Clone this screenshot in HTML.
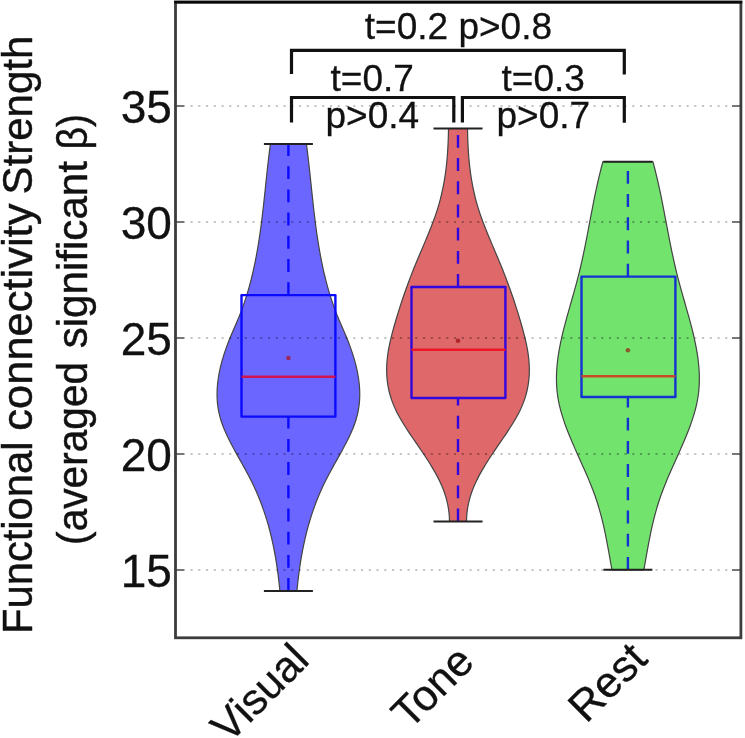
<!DOCTYPE html>
<html><head><meta charset="utf-8"><title>Functional connectivity Strength</title>
<style>html,body{margin:0;padding:0;background:#fff}body{width:745px;height:738px;overflow:hidden}svg{display:block}text{font-family:"Liberation Sans",sans-serif;fill:#111;stroke:#111;stroke-width:0.3px}</style></head><body>
<svg width="745" height="738" viewBox="0 0 745 738">
<rect width="745" height="738" fill="#fff"/>
<line x1="190.5" x2="732.9" y1="106.0" y2="106.0" stroke="#c4c4c4" stroke-width="2" stroke-dasharray="2.1 5.65"/>
<line x1="175.5" x2="184.5" y1="106.0" y2="106.0" stroke="#777" stroke-width="2"/>
<line x1="731.9" x2="740.9" y1="106.0" y2="106.0" stroke="#777" stroke-width="2"/>
<line x1="190.5" x2="732.9" y1="222.0" y2="222.0" stroke="#c4c4c4" stroke-width="2" stroke-dasharray="2.1 5.65"/>
<line x1="175.5" x2="184.5" y1="222.0" y2="222.0" stroke="#777" stroke-width="2"/>
<line x1="731.9" x2="740.9" y1="222.0" y2="222.0" stroke="#777" stroke-width="2"/>
<line x1="190.5" x2="732.9" y1="338.0" y2="338.0" stroke="#c4c4c4" stroke-width="2" stroke-dasharray="2.1 5.65"/>
<line x1="175.5" x2="184.5" y1="338.0" y2="338.0" stroke="#777" stroke-width="2"/>
<line x1="731.9" x2="740.9" y1="338.0" y2="338.0" stroke="#777" stroke-width="2"/>
<line x1="190.5" x2="732.9" y1="454.0" y2="454.0" stroke="#c4c4c4" stroke-width="2" stroke-dasharray="2.1 5.65"/>
<line x1="175.5" x2="184.5" y1="454.0" y2="454.0" stroke="#777" stroke-width="2"/>
<line x1="731.9" x2="740.9" y1="454.0" y2="454.0" stroke="#777" stroke-width="2"/>
<line x1="190.5" x2="732.9" y1="570.0" y2="570.0" stroke="#c4c4c4" stroke-width="2" stroke-dasharray="2.1 5.65"/>
<line x1="175.5" x2="184.5" y1="570.0" y2="570.0" stroke="#777" stroke-width="2"/>
<line x1="731.9" x2="740.9" y1="570.0" y2="570.0" stroke="#777" stroke-width="2"/>
<g fill="none" stroke="#0a0aff" stroke-width="2.4" stroke-linejoin="round">
<path d="M288.4,295.1 V143.9" stroke-dasharray="12.9 10.3"/>
<path d="M288.4,591.0 V416.6" stroke-dasharray="12.9 10.3"/>
</g>
<g fill="none" stroke="#3206dc" stroke-width="2.4" stroke-linejoin="round">
<path d="M458.0,287.0 V128.5" stroke-dasharray="12.9 10.3"/>
<path d="M458.0,521.5 V398.0" stroke-dasharray="12.9 10.3"/>
</g>
<g fill="none" stroke="#1432d2" stroke-width="2.4" stroke-linejoin="round">
<path d="M627.9,276.6 V161.7" stroke-dasharray="12.9 10.3"/>
<path d="M627.9,569.8 V397.0" stroke-dasharray="12.9 10.3"/>
</g>
<path d="M306.40,143.90 C306.51,144.74 306.84,147.25 307.06,148.92 C307.27,150.60 307.48,152.27 307.69,153.95 C307.89,155.62 308.09,157.30 308.29,158.97 C308.48,160.65 308.68,162.32 308.86,163.99 C309.05,165.67 309.24,167.34 309.42,169.02 C309.61,170.69 309.79,172.37 309.97,174.04 C310.15,175.72 310.32,177.39 310.50,179.07 C310.68,180.74 310.85,182.41 311.03,184.09 C311.20,185.76 311.38,187.44 311.55,189.11 C311.73,190.79 311.90,192.46 312.08,194.14 C312.26,195.81 312.44,197.49 312.62,199.16 C312.80,200.83 312.98,202.51 313.16,204.18 C313.35,205.86 313.54,207.53 313.73,209.21 C313.92,210.88 314.11,212.56 314.31,214.23 C314.51,215.90 314.71,217.58 314.92,219.25 C315.12,220.93 315.33,222.60 315.55,224.28 C315.77,225.95 315.99,227.63 316.22,229.30 C316.45,230.98 316.68,232.65 316.92,234.32 C317.17,236.00 317.41,237.67 317.67,239.35 C317.93,241.02 318.19,242.70 318.46,244.37 C318.74,246.05 319.02,247.72 319.31,249.40 C319.60,251.07 319.90,252.74 320.20,254.42 C320.51,256.09 320.83,257.77 321.16,259.44 C321.49,261.12 321.83,262.79 322.18,264.47 C322.53,266.14 322.89,267.82 323.27,269.49 C323.64,271.16 324.03,272.84 324.43,274.51 C324.82,276.19 325.23,277.86 325.66,279.54 C326.09,281.21 326.52,282.89 326.98,284.56 C327.43,286.24 327.90,287.91 328.38,289.58 C328.86,291.26 329.36,292.93 329.88,294.61 C330.39,296.28 330.92,297.96 331.48,299.63 C332.03,301.31 332.59,302.98 333.18,304.66 C333.76,306.33 334.37,308.00 334.99,309.68 C335.62,311.35 336.26,313.03 336.93,314.70 C337.59,316.38 338.28,318.05 338.98,319.73 C339.68,321.40 340.40,323.07 341.13,324.75 C341.85,326.42 342.58,328.10 343.30,329.77 C344.02,331.45 344.75,333.12 345.45,334.80 C346.16,336.47 346.85,338.15 347.52,339.82 C348.19,341.49 348.85,343.17 349.47,344.84 C350.10,346.52 350.71,348.19 351.29,349.87 C351.87,351.54 352.43,353.22 352.96,354.89 C353.49,356.57 353.99,358.24 354.47,359.91 C354.95,361.59 355.40,363.26 355.82,364.94 C356.24,366.61 356.63,368.29 356.99,369.96 C357.35,371.64 357.67,373.31 357.97,374.99 C358.26,376.66 358.53,378.33 358.75,380.01 C358.98,381.68 359.17,383.36 359.32,385.03 C359.47,386.71 359.59,388.38 359.66,390.06 C359.73,391.73 359.76,393.41 359.75,395.08 C359.73,396.75 359.68,398.43 359.57,400.10 C359.47,401.78 359.32,403.45 359.11,405.13 C358.91,406.80 358.66,408.48 358.35,410.15 C358.04,411.83 357.68,413.50 357.27,415.17 C356.85,416.85 356.38,418.52 355.86,420.20 C355.33,421.87 354.75,423.55 354.13,425.22 C353.51,426.90 352.84,428.57 352.13,430.24 C351.42,431.92 350.67,433.59 349.90,435.27 C349.12,436.94 348.30,438.62 347.47,440.29 C346.63,441.97 345.76,443.64 344.88,445.32 C344.00,446.99 343.09,448.66 342.18,450.34 C341.26,452.01 340.33,453.69 339.40,455.36 C338.46,457.04 337.52,458.71 336.58,460.39 C335.64,462.06 334.69,463.74 333.76,465.41 C332.83,467.08 331.90,468.76 330.98,470.43 C330.07,472.11 329.17,473.78 328.29,475.46 C327.41,477.13 326.55,478.81 325.71,480.48 C324.87,482.16 324.06,483.83 323.27,485.50 C322.48,487.18 321.72,488.85 320.97,490.53 C320.23,492.20 319.51,493.88 318.81,495.55 C318.11,497.23 317.43,498.90 316.77,500.58 C316.11,502.25 315.48,503.92 314.86,505.60 C314.24,507.27 313.65,508.95 313.07,510.62 C312.49,512.30 311.94,513.97 311.40,515.65 C310.86,517.32 310.33,519.00 309.83,520.67 C309.33,522.34 308.84,524.02 308.37,525.69 C307.90,527.37 307.45,529.04 307.01,530.72 C306.58,532.39 306.16,534.07 305.75,535.74 C305.35,537.41 304.96,539.09 304.58,540.76 C304.21,542.44 303.85,544.11 303.50,545.79 C303.15,547.46 302.82,549.14 302.50,550.81 C302.18,552.49 301.87,554.16 301.58,555.83 C301.28,557.51 301.00,559.18 300.73,560.86 C300.46,562.53 300.20,564.21 299.95,565.88 C299.70,567.56 299.46,569.23 299.23,570.91 C299.00,572.58 298.78,574.25 298.57,575.93 C298.36,577.60 298.16,579.28 297.97,580.95 C297.77,582.63 297.59,584.30 297.41,585.98 C297.23,587.65 296.99,590.16 296.90,591.00 L279.90,591.00 C279.81,590.16 279.57,587.65 279.39,585.98 C279.21,584.30 279.03,582.63 278.83,580.95 C278.64,579.28 278.44,577.60 278.23,575.93 C278.02,574.25 277.80,572.58 277.57,570.91 C277.34,569.23 277.10,567.56 276.85,565.88 C276.60,564.21 276.34,562.53 276.07,560.86 C275.80,559.18 275.52,557.51 275.22,555.83 C274.93,554.16 274.62,552.49 274.30,550.81 C273.98,549.14 273.65,547.46 273.30,545.79 C272.95,544.11 272.59,542.44 272.22,540.76 C271.84,539.09 271.45,537.41 271.05,535.74 C270.64,534.07 270.22,532.39 269.79,530.72 C269.35,529.04 268.90,527.37 268.43,525.69 C267.96,524.02 267.47,522.34 266.97,520.67 C266.47,519.00 265.94,517.32 265.40,515.65 C264.86,513.97 264.31,512.30 263.73,510.62 C263.15,508.95 262.56,507.27 261.94,505.60 C261.32,503.92 260.69,502.25 260.03,500.58 C259.37,498.90 258.69,497.23 257.99,495.55 C257.29,493.88 256.57,492.20 255.83,490.53 C255.08,488.85 254.32,487.18 253.53,485.50 C252.74,483.83 251.93,482.16 251.09,480.48 C250.25,478.81 249.39,477.13 248.51,475.46 C247.63,473.78 246.73,472.11 245.82,470.43 C244.90,468.76 243.97,467.08 243.04,465.41 C242.11,463.74 241.16,462.06 240.22,460.39 C239.28,458.71 238.34,457.04 237.40,455.36 C236.47,453.69 235.54,452.01 234.62,450.34 C233.71,448.66 232.80,446.99 231.92,445.32 C231.04,443.64 230.17,441.97 229.33,440.29 C228.50,438.62 227.68,436.94 226.90,435.27 C226.13,433.59 225.38,431.92 224.67,430.24 C223.96,428.57 223.29,426.90 222.67,425.22 C222.05,423.55 221.47,421.87 220.94,420.20 C220.42,418.52 219.95,416.85 219.53,415.17 C219.12,413.50 218.76,411.83 218.45,410.15 C218.14,408.48 217.89,406.80 217.69,405.13 C217.48,403.45 217.33,401.78 217.23,400.10 C217.12,398.43 217.07,396.75 217.05,395.08 C217.04,393.41 217.07,391.73 217.14,390.06 C217.21,388.38 217.33,386.71 217.48,385.03 C217.63,383.36 217.82,381.68 218.05,380.01 C218.27,378.33 218.54,376.66 218.83,374.99 C219.13,373.31 219.45,371.64 219.81,369.96 C220.17,368.29 220.56,366.61 220.98,364.94 C221.40,363.26 221.85,361.59 222.33,359.91 C222.81,358.24 223.31,356.57 223.84,354.89 C224.37,353.22 224.93,351.54 225.51,349.87 C226.09,348.19 226.70,346.52 227.33,344.84 C227.95,343.17 228.61,341.49 229.28,339.82 C229.95,338.15 230.64,336.47 231.35,334.80 C232.05,333.12 232.78,331.45 233.50,329.77 C234.22,328.10 234.95,326.42 235.67,324.75 C236.40,323.07 237.12,321.40 237.82,319.73 C238.52,318.05 239.21,316.38 239.87,314.70 C240.54,313.03 241.18,311.35 241.81,309.68 C242.43,308.00 243.04,306.33 243.62,304.66 C244.21,302.98 244.77,301.31 245.32,299.63 C245.88,297.96 246.41,296.28 246.92,294.61 C247.44,292.93 247.94,291.26 248.42,289.58 C248.90,287.91 249.37,286.24 249.82,284.56 C250.28,282.89 250.71,281.21 251.14,279.54 C251.57,277.86 251.98,276.19 252.37,274.51 C252.77,272.84 253.16,271.16 253.53,269.49 C253.91,267.82 254.27,266.14 254.62,264.47 C254.97,262.79 255.31,261.12 255.64,259.44 C255.97,257.77 256.29,256.09 256.60,254.42 C256.90,252.74 257.20,251.07 257.49,249.40 C257.78,247.72 258.06,246.05 258.34,244.37 C258.61,242.70 258.87,241.02 259.13,239.35 C259.39,237.67 259.63,236.00 259.88,234.32 C260.12,232.65 260.35,230.98 260.58,229.30 C260.81,227.63 261.03,225.95 261.25,224.28 C261.47,222.60 261.68,220.93 261.88,219.25 C262.09,217.58 262.29,215.90 262.49,214.23 C262.69,212.56 262.88,210.88 263.07,209.21 C263.26,207.53 263.45,205.86 263.64,204.18 C263.82,202.51 264.00,200.83 264.18,199.16 C264.36,197.49 264.54,195.81 264.72,194.14 C264.90,192.46 265.07,190.79 265.25,189.11 C265.42,187.44 265.60,185.76 265.77,184.09 C265.95,182.41 266.12,180.74 266.30,179.07 C266.48,177.39 266.65,175.72 266.83,174.04 C267.01,172.37 267.19,170.69 267.38,169.02 C267.56,167.34 267.75,165.67 267.94,163.99 C268.12,162.32 268.32,160.65 268.51,158.97 C268.71,157.30 268.91,155.62 269.11,153.95 C269.32,152.27 269.53,150.60 269.74,148.92 C269.96,147.25 270.29,144.74 270.40,143.90 Z" fill="#6b66ff" stroke="#444" stroke-width="1.2" stroke-linejoin="round"/>
<path d="M467.50,128.50 C467.52,129.34 467.55,131.86 467.59,133.54 C467.63,135.22 467.68,136.90 467.73,138.58 C467.79,140.26 467.85,141.94 467.93,143.62 C468.01,145.29 468.09,146.97 468.19,148.65 C468.29,150.33 468.39,152.01 468.52,153.69 C468.64,155.37 468.77,157.05 468.92,158.73 C469.07,160.41 469.23,162.09 469.40,163.77 C469.58,165.45 469.77,167.13 469.98,168.81 C470.18,170.49 470.40,172.17 470.64,173.85 C470.88,175.53 471.14,177.21 471.41,178.88 C471.69,180.56 471.98,182.24 472.29,183.92 C472.60,185.60 472.93,187.28 473.28,188.96 C473.63,190.64 474.00,192.32 474.39,194.00 C474.78,195.68 475.20,197.36 475.63,199.04 C476.07,200.72 476.52,202.40 477.00,204.08 C477.48,205.76 477.99,207.44 478.52,209.12 C479.04,210.79 479.60,212.47 480.17,214.15 C480.74,215.83 481.33,217.51 481.94,219.19 C482.55,220.87 483.18,222.55 483.82,224.23 C484.47,225.91 485.12,227.59 485.79,229.27 C486.46,230.95 487.14,232.63 487.83,234.31 C488.52,235.99 489.22,237.67 489.92,239.35 C490.63,241.03 491.34,242.71 492.05,244.38 C492.76,246.06 493.48,247.74 494.20,249.42 C494.91,251.10 495.63,252.78 496.34,254.46 C497.06,256.14 497.77,257.82 498.47,259.50 C499.18,261.18 499.88,262.86 500.57,264.54 C501.26,266.22 501.94,267.90 502.61,269.58 C503.28,271.26 503.94,272.94 504.60,274.62 C505.25,276.29 505.89,277.97 506.53,279.65 C507.16,281.33 507.79,283.01 508.40,284.69 C509.02,286.37 509.62,288.05 510.22,289.73 C510.82,291.41 511.41,293.09 511.99,294.77 C512.57,296.45 513.14,298.13 513.71,299.81 C514.27,301.49 514.82,303.17 515.37,304.85 C515.92,306.53 516.46,308.21 516.99,309.88 C517.52,311.56 518.04,313.24 518.55,314.92 C519.07,316.60 519.57,318.28 520.07,319.96 C520.57,321.64 521.06,323.32 521.54,325.00 C522.03,326.68 522.50,328.36 522.96,330.04 C523.41,331.72 523.86,333.40 524.29,335.08 C524.71,336.76 525.12,338.44 525.51,340.12 C525.90,341.79 526.26,343.47 526.60,345.15 C526.94,346.83 527.26,348.51 527.55,350.19 C527.83,351.87 528.09,353.55 528.31,355.23 C528.54,356.91 528.73,358.59 528.88,360.27 C529.04,361.95 529.16,363.63 529.23,365.31 C529.31,366.99 529.35,368.67 529.34,370.35 C529.33,372.03 529.28,373.71 529.19,375.38 C529.09,377.06 528.95,378.74 528.77,380.42 C528.58,382.10 528.35,383.78 528.07,385.46 C527.78,387.14 527.45,388.82 527.07,390.50 C526.69,392.18 526.25,393.86 525.77,395.54 C525.28,397.22 524.74,398.90 524.14,400.58 C523.55,402.26 522.90,403.94 522.19,405.62 C521.48,407.29 520.71,408.97 519.89,410.65 C519.07,412.33 518.20,414.01 517.28,415.69 C516.37,417.37 515.40,419.05 514.41,420.73 C513.42,422.41 512.38,424.09 511.33,425.77 C510.27,427.45 509.18,429.13 508.08,430.81 C506.97,432.49 505.84,434.17 504.71,435.85 C503.58,437.53 502.43,439.21 501.28,440.88 C500.14,442.56 498.98,444.24 497.84,445.92 C496.69,447.60 495.54,449.28 494.41,450.96 C493.28,452.64 492.15,454.32 491.04,456.00 C489.93,457.68 488.83,459.36 487.76,461.04 C486.69,462.72 485.64,464.40 484.61,466.08 C483.59,467.76 482.59,469.44 481.63,471.12 C480.67,472.79 479.73,474.47 478.85,476.15 C477.96,477.83 477.10,479.51 476.30,481.19 C475.50,482.87 474.73,484.55 474.03,486.23 C473.32,487.91 472.66,489.59 472.05,491.27 C471.44,492.95 470.88,494.63 470.38,496.31 C469.87,497.99 469.41,499.67 469.00,501.35 C468.59,503.03 468.23,504.71 467.93,506.38 C467.62,508.06 467.36,509.74 467.15,511.42 C466.94,513.10 466.78,514.78 466.68,516.46 C466.57,518.14 466.53,520.66 466.50,521.50 L449.50,521.50 C449.47,520.66 449.43,518.14 449.32,516.46 C449.22,514.78 449.06,513.10 448.85,511.42 C448.64,509.74 448.38,508.06 448.07,506.38 C447.77,504.71 447.41,503.03 447.00,501.35 C446.59,499.67 446.13,497.99 445.62,496.31 C445.12,494.63 444.56,492.95 443.95,491.27 C443.34,489.59 442.68,487.91 441.97,486.23 C441.27,484.55 440.50,482.87 439.70,481.19 C438.90,479.51 438.04,477.83 437.15,476.15 C436.27,474.47 435.33,472.79 434.37,471.12 C433.41,469.44 432.41,467.76 431.39,466.08 C430.36,464.40 429.31,462.72 428.24,461.04 C427.17,459.36 426.07,457.68 424.96,456.00 C423.85,454.32 422.72,452.64 421.59,450.96 C420.46,449.28 419.31,447.60 418.16,445.92 C417.02,444.24 415.86,442.56 414.72,440.88 C413.57,439.21 412.42,437.53 411.29,435.85 C410.16,434.17 409.03,432.49 407.92,430.81 C406.82,429.13 405.73,427.45 404.67,425.77 C403.62,424.09 402.58,422.41 401.59,420.73 C400.60,419.05 399.63,417.37 398.72,415.69 C397.80,414.01 396.93,412.33 396.11,410.65 C395.29,408.97 394.52,407.29 393.81,405.62 C393.10,403.94 392.45,402.26 391.86,400.58 C391.26,398.90 390.72,397.22 390.23,395.54 C389.75,393.86 389.31,392.18 388.93,390.50 C388.55,388.82 388.22,387.14 387.93,385.46 C387.65,383.78 387.42,382.10 387.23,380.42 C387.05,378.74 386.91,377.06 386.81,375.38 C386.72,373.71 386.67,372.03 386.66,370.35 C386.65,368.67 386.69,366.99 386.77,365.31 C386.84,363.63 386.96,361.95 387.12,360.27 C387.27,358.59 387.46,356.91 387.69,355.23 C387.91,353.55 388.17,351.87 388.45,350.19 C388.74,348.51 389.06,346.83 389.40,345.15 C389.74,343.47 390.10,341.79 390.49,340.12 C390.88,338.44 391.29,336.76 391.71,335.08 C392.14,333.40 392.59,331.72 393.04,330.04 C393.50,328.36 393.97,326.68 394.46,325.00 C394.94,323.32 395.43,321.64 395.93,319.96 C396.43,318.28 396.93,316.60 397.45,314.92 C397.96,313.24 398.48,311.56 399.01,309.88 C399.54,308.21 400.08,306.53 400.63,304.85 C401.18,303.17 401.73,301.49 402.29,299.81 C402.86,298.13 403.43,296.45 404.01,294.77 C404.59,293.09 405.18,291.41 405.78,289.73 C406.38,288.05 406.98,286.37 407.60,284.69 C408.21,283.01 408.84,281.33 409.47,279.65 C410.11,277.97 410.75,276.29 411.40,274.62 C412.06,272.94 412.72,271.26 413.39,269.58 C414.06,267.90 414.74,266.22 415.43,264.54 C416.12,262.86 416.82,261.18 417.53,259.50 C418.23,257.82 418.94,256.14 419.66,254.46 C420.37,252.78 421.09,251.10 421.80,249.42 C422.52,247.74 423.24,246.06 423.95,244.38 C424.66,242.71 425.37,241.03 426.08,239.35 C426.78,237.67 427.48,235.99 428.17,234.31 C428.86,232.63 429.54,230.95 430.21,229.27 C430.88,227.59 431.53,225.91 432.18,224.23 C432.82,222.55 433.45,220.87 434.06,219.19 C434.67,217.51 435.26,215.83 435.83,214.15 C436.40,212.47 436.96,210.79 437.48,209.12 C438.01,207.44 438.52,205.76 439.00,204.08 C439.48,202.40 439.93,200.72 440.37,199.04 C440.80,197.36 441.22,195.68 441.61,194.00 C442.00,192.32 442.37,190.64 442.72,188.96 C443.07,187.28 443.40,185.60 443.71,183.92 C444.02,182.24 444.31,180.56 444.59,178.88 C444.86,177.21 445.12,175.53 445.36,173.85 C445.60,172.17 445.82,170.49 446.02,168.81 C446.23,167.13 446.42,165.45 446.60,163.77 C446.77,162.09 446.93,160.41 447.08,158.73 C447.23,157.05 447.36,155.37 447.48,153.69 C447.61,152.01 447.71,150.33 447.81,148.65 C447.91,146.97 447.99,145.29 448.07,143.62 C448.15,141.94 448.21,140.26 448.27,138.58 C448.32,136.90 448.37,135.22 448.41,133.54 C448.45,131.86 448.48,129.34 448.50,128.50 Z" fill="#de686a" stroke="#444" stroke-width="1.2" stroke-linejoin="round"/>
<path d="M652.90,161.70 C653.13,162.54 653.81,165.06 654.25,166.74 C654.70,168.42 655.12,170.10 655.54,171.78 C655.96,173.46 656.37,175.14 656.77,176.81 C657.17,178.49 657.56,180.17 657.95,181.85 C658.33,183.53 658.70,185.21 659.07,186.89 C659.44,188.57 659.80,190.25 660.15,191.93 C660.51,193.61 660.86,195.29 661.20,196.97 C661.55,198.65 661.88,200.33 662.22,202.01 C662.55,203.69 662.88,205.37 663.21,207.04 C663.54,208.72 663.86,210.40 664.18,212.08 C664.51,213.76 664.83,215.44 665.14,217.12 C665.46,218.80 665.78,220.48 666.10,222.16 C666.42,223.84 666.73,225.52 667.05,227.20 C667.37,228.88 667.69,230.56 668.01,232.24 C668.34,233.92 668.66,235.59 668.98,237.27 C669.31,238.95 669.64,240.63 669.97,242.31 C670.31,243.99 670.64,245.67 670.99,247.35 C671.33,249.03 671.68,250.71 672.03,252.39 C672.38,254.07 672.74,255.75 673.11,257.43 C673.47,259.11 673.84,260.79 674.22,262.47 C674.60,264.14 674.99,265.82 675.39,267.50 C675.78,269.18 676.19,270.86 676.60,272.54 C677.01,274.22 677.44,275.90 677.87,277.58 C678.30,279.26 678.75,280.94 679.20,282.62 C679.64,284.30 680.10,285.98 680.57,287.66 C681.03,289.34 681.50,291.02 681.97,292.70 C682.44,294.37 682.92,296.05 683.40,297.73 C683.88,299.41 684.36,301.09 684.84,302.77 C685.32,304.45 685.80,306.13 686.27,307.81 C686.75,309.49 687.23,311.17 687.70,312.85 C688.17,314.53 688.64,316.21 689.10,317.89 C689.56,319.57 690.02,321.25 690.47,322.92 C690.91,324.60 691.35,326.28 691.78,327.96 C692.21,329.64 692.63,331.32 693.03,333.00 C693.44,334.68 693.83,336.36 694.21,338.04 C694.59,339.72 694.95,341.40 695.30,343.08 C695.64,344.76 695.97,346.44 696.28,348.12 C696.59,349.80 696.88,351.47 697.15,353.15 C697.42,354.83 697.67,356.51 697.90,358.19 C698.12,359.87 698.33,361.55 698.50,363.23 C698.68,364.91 698.83,366.59 698.95,368.27 C699.08,369.95 699.17,371.63 699.24,373.31 C699.30,374.99 699.34,376.67 699.34,378.35 C699.35,380.03 699.32,381.70 699.26,383.38 C699.20,385.06 699.10,386.74 698.97,388.42 C698.84,390.10 698.67,391.78 698.46,393.46 C698.26,395.14 698.01,396.82 697.73,398.50 C697.44,400.18 697.12,401.86 696.76,403.54 C696.40,405.22 696.00,406.90 695.57,408.58 C695.15,410.25 694.69,411.93 694.20,413.61 C693.71,415.29 693.19,416.97 692.64,418.65 C692.10,420.33 691.53,422.01 690.93,423.69 C690.34,425.37 689.72,427.05 689.09,428.73 C688.45,430.41 687.79,432.09 687.12,433.77 C686.45,435.45 685.76,437.13 685.06,438.80 C684.36,440.48 683.64,442.16 682.91,443.84 C682.19,445.52 681.45,447.20 680.71,448.88 C679.97,450.56 679.22,452.24 678.46,453.92 C677.71,455.60 676.95,457.28 676.20,458.96 C675.44,460.64 674.68,462.32 673.93,464.00 C673.18,465.68 672.42,467.36 671.68,469.03 C670.93,470.71 670.19,472.39 669.46,474.07 C668.73,475.75 668.01,477.43 667.30,479.11 C666.59,480.79 665.89,482.47 665.21,484.15 C664.53,485.83 663.86,487.51 663.22,489.19 C662.57,490.87 661.94,492.55 661.34,494.23 C660.73,495.91 660.15,497.58 659.59,499.26 C659.03,500.94 658.49,502.62 657.97,504.30 C657.44,505.98 656.95,507.66 656.46,509.34 C655.98,511.02 655.52,512.70 655.07,514.38 C654.62,516.06 654.19,517.74 653.77,519.42 C653.35,521.10 652.95,522.78 652.56,524.46 C652.17,526.13 651.79,527.81 651.43,529.49 C651.06,531.17 650.71,532.85 650.36,534.53 C650.01,536.21 649.68,537.89 649.35,539.57 C649.02,541.25 648.70,542.93 648.39,544.61 C648.07,546.29 647.76,547.97 647.46,549.65 C647.15,551.33 646.86,553.01 646.56,554.69 C646.26,556.36 645.97,558.04 645.67,559.72 C645.38,561.40 645.08,563.08 644.79,564.76 C644.49,566.44 644.05,568.96 643.90,569.80 L611.90,569.80 C611.75,568.96 611.31,566.44 611.01,564.76 C610.72,563.08 610.42,561.40 610.13,559.72 C609.83,558.04 609.54,556.36 609.24,554.69 C608.94,553.01 608.65,551.33 608.34,549.65 C608.04,547.97 607.73,546.29 607.41,544.61 C607.10,542.93 606.78,541.25 606.45,539.57 C606.12,537.89 605.79,536.21 605.44,534.53 C605.09,532.85 604.74,531.17 604.37,529.49 C604.01,527.81 603.63,526.13 603.24,524.46 C602.85,522.78 602.45,521.10 602.03,519.42 C601.61,517.74 601.18,516.06 600.73,514.38 C600.28,512.70 599.82,511.02 599.34,509.34 C598.85,507.66 598.36,505.98 597.83,504.30 C597.31,502.62 596.77,500.94 596.21,499.26 C595.65,497.58 595.07,495.91 594.46,494.23 C593.86,492.55 593.23,490.87 592.58,489.19 C591.94,487.51 591.27,485.83 590.59,484.15 C589.91,482.47 589.21,480.79 588.50,479.11 C587.79,477.43 587.07,475.75 586.34,474.07 C585.61,472.39 584.87,470.71 584.12,469.03 C583.38,467.36 582.62,465.68 581.87,464.00 C581.12,462.32 580.36,460.64 579.60,458.96 C578.85,457.28 578.09,455.60 577.34,453.92 C576.58,452.24 575.83,450.56 575.09,448.88 C574.35,447.20 573.61,445.52 572.89,443.84 C572.16,442.16 571.44,440.48 570.74,438.80 C570.04,437.13 569.35,435.45 568.68,433.77 C568.01,432.09 567.35,430.41 566.71,428.73 C566.08,427.05 565.46,425.37 564.87,423.69 C564.27,422.01 563.70,420.33 563.16,418.65 C562.61,416.97 562.09,415.29 561.60,413.61 C561.11,411.93 560.65,410.25 560.23,408.58 C559.80,406.90 559.40,405.22 559.04,403.54 C558.68,401.86 558.36,400.18 558.07,398.50 C557.79,396.82 557.54,395.14 557.34,393.46 C557.13,391.78 556.96,390.10 556.83,388.42 C556.70,386.74 556.60,385.06 556.54,383.38 C556.48,381.70 556.45,380.03 556.46,378.35 C556.46,376.67 556.50,374.99 556.56,373.31 C556.63,371.63 556.72,369.95 556.85,368.27 C556.97,366.59 557.12,364.91 557.30,363.23 C557.47,361.55 557.68,359.87 557.90,358.19 C558.13,356.51 558.38,354.83 558.65,353.15 C558.92,351.47 559.21,349.80 559.52,348.12 C559.83,346.44 560.16,344.76 560.50,343.08 C560.85,341.40 561.21,339.72 561.59,338.04 C561.97,336.36 562.36,334.68 562.77,333.00 C563.17,331.32 563.59,329.64 564.02,327.96 C564.45,326.28 564.89,324.60 565.33,322.92 C565.78,321.25 566.24,319.57 566.70,317.89 C567.16,316.21 567.63,314.53 568.10,312.85 C568.57,311.17 569.05,309.49 569.53,307.81 C570.00,306.13 570.48,304.45 570.96,302.77 C571.44,301.09 571.92,299.41 572.40,297.73 C572.88,296.05 573.36,294.37 573.83,292.70 C574.30,291.02 574.77,289.34 575.23,287.66 C575.70,285.98 576.16,284.30 576.60,282.62 C577.05,280.94 577.50,279.26 577.93,277.58 C578.36,275.90 578.79,274.22 579.20,272.54 C579.61,270.86 580.02,269.18 580.41,267.50 C580.81,265.82 581.20,264.14 581.58,262.47 C581.96,260.79 582.33,259.11 582.69,257.43 C583.06,255.75 583.42,254.07 583.77,252.39 C584.12,250.71 584.47,249.03 584.81,247.35 C585.16,245.67 585.49,243.99 585.83,242.31 C586.16,240.63 586.49,238.95 586.82,237.27 C587.14,235.59 587.46,233.92 587.79,232.24 C588.11,230.56 588.43,228.88 588.75,227.20 C589.07,225.52 589.38,223.84 589.70,222.16 C590.02,220.48 590.34,218.80 590.66,217.12 C590.97,215.44 591.29,213.76 591.62,212.08 C591.94,210.40 592.26,208.72 592.59,207.04 C592.92,205.37 593.25,203.69 593.58,202.01 C593.92,200.33 594.25,198.65 594.60,196.97 C594.94,195.29 595.29,193.61 595.65,191.93 C596.00,190.25 596.36,188.57 596.73,186.89 C597.10,185.21 597.47,183.53 597.85,181.85 C598.24,180.17 598.63,178.49 599.03,176.81 C599.43,175.14 599.84,173.46 600.26,171.78 C600.68,170.10 601.10,168.42 601.55,166.74 C601.99,165.06 602.67,162.54 602.90,161.70 Z" fill="#72e46e" stroke="#444" stroke-width="1.2" stroke-linejoin="round"/>
<clipPath id="vc">
<path d="M306.40,143.90 C306.51,144.74 306.84,147.25 307.06,148.92 C307.27,150.60 307.48,152.27 307.69,153.95 C307.89,155.62 308.09,157.30 308.29,158.97 C308.48,160.65 308.68,162.32 308.86,163.99 C309.05,165.67 309.24,167.34 309.42,169.02 C309.61,170.69 309.79,172.37 309.97,174.04 C310.15,175.72 310.32,177.39 310.50,179.07 C310.68,180.74 310.85,182.41 311.03,184.09 C311.20,185.76 311.38,187.44 311.55,189.11 C311.73,190.79 311.90,192.46 312.08,194.14 C312.26,195.81 312.44,197.49 312.62,199.16 C312.80,200.83 312.98,202.51 313.16,204.18 C313.35,205.86 313.54,207.53 313.73,209.21 C313.92,210.88 314.11,212.56 314.31,214.23 C314.51,215.90 314.71,217.58 314.92,219.25 C315.12,220.93 315.33,222.60 315.55,224.28 C315.77,225.95 315.99,227.63 316.22,229.30 C316.45,230.98 316.68,232.65 316.92,234.32 C317.17,236.00 317.41,237.67 317.67,239.35 C317.93,241.02 318.19,242.70 318.46,244.37 C318.74,246.05 319.02,247.72 319.31,249.40 C319.60,251.07 319.90,252.74 320.20,254.42 C320.51,256.09 320.83,257.77 321.16,259.44 C321.49,261.12 321.83,262.79 322.18,264.47 C322.53,266.14 322.89,267.82 323.27,269.49 C323.64,271.16 324.03,272.84 324.43,274.51 C324.82,276.19 325.23,277.86 325.66,279.54 C326.09,281.21 326.52,282.89 326.98,284.56 C327.43,286.24 327.90,287.91 328.38,289.58 C328.86,291.26 329.36,292.93 329.88,294.61 C330.39,296.28 330.92,297.96 331.48,299.63 C332.03,301.31 332.59,302.98 333.18,304.66 C333.76,306.33 334.37,308.00 334.99,309.68 C335.62,311.35 336.26,313.03 336.93,314.70 C337.59,316.38 338.28,318.05 338.98,319.73 C339.68,321.40 340.40,323.07 341.13,324.75 C341.85,326.42 342.58,328.10 343.30,329.77 C344.02,331.45 344.75,333.12 345.45,334.80 C346.16,336.47 346.85,338.15 347.52,339.82 C348.19,341.49 348.85,343.17 349.47,344.84 C350.10,346.52 350.71,348.19 351.29,349.87 C351.87,351.54 352.43,353.22 352.96,354.89 C353.49,356.57 353.99,358.24 354.47,359.91 C354.95,361.59 355.40,363.26 355.82,364.94 C356.24,366.61 356.63,368.29 356.99,369.96 C357.35,371.64 357.67,373.31 357.97,374.99 C358.26,376.66 358.53,378.33 358.75,380.01 C358.98,381.68 359.17,383.36 359.32,385.03 C359.47,386.71 359.59,388.38 359.66,390.06 C359.73,391.73 359.76,393.41 359.75,395.08 C359.73,396.75 359.68,398.43 359.57,400.10 C359.47,401.78 359.32,403.45 359.11,405.13 C358.91,406.80 358.66,408.48 358.35,410.15 C358.04,411.83 357.68,413.50 357.27,415.17 C356.85,416.85 356.38,418.52 355.86,420.20 C355.33,421.87 354.75,423.55 354.13,425.22 C353.51,426.90 352.84,428.57 352.13,430.24 C351.42,431.92 350.67,433.59 349.90,435.27 C349.12,436.94 348.30,438.62 347.47,440.29 C346.63,441.97 345.76,443.64 344.88,445.32 C344.00,446.99 343.09,448.66 342.18,450.34 C341.26,452.01 340.33,453.69 339.40,455.36 C338.46,457.04 337.52,458.71 336.58,460.39 C335.64,462.06 334.69,463.74 333.76,465.41 C332.83,467.08 331.90,468.76 330.98,470.43 C330.07,472.11 329.17,473.78 328.29,475.46 C327.41,477.13 326.55,478.81 325.71,480.48 C324.87,482.16 324.06,483.83 323.27,485.50 C322.48,487.18 321.72,488.85 320.97,490.53 C320.23,492.20 319.51,493.88 318.81,495.55 C318.11,497.23 317.43,498.90 316.77,500.58 C316.11,502.25 315.48,503.92 314.86,505.60 C314.24,507.27 313.65,508.95 313.07,510.62 C312.49,512.30 311.94,513.97 311.40,515.65 C310.86,517.32 310.33,519.00 309.83,520.67 C309.33,522.34 308.84,524.02 308.37,525.69 C307.90,527.37 307.45,529.04 307.01,530.72 C306.58,532.39 306.16,534.07 305.75,535.74 C305.35,537.41 304.96,539.09 304.58,540.76 C304.21,542.44 303.85,544.11 303.50,545.79 C303.15,547.46 302.82,549.14 302.50,550.81 C302.18,552.49 301.87,554.16 301.58,555.83 C301.28,557.51 301.00,559.18 300.73,560.86 C300.46,562.53 300.20,564.21 299.95,565.88 C299.70,567.56 299.46,569.23 299.23,570.91 C299.00,572.58 298.78,574.25 298.57,575.93 C298.36,577.60 298.16,579.28 297.97,580.95 C297.77,582.63 297.59,584.30 297.41,585.98 C297.23,587.65 296.99,590.16 296.90,591.00 L279.90,591.00 C279.81,590.16 279.57,587.65 279.39,585.98 C279.21,584.30 279.03,582.63 278.83,580.95 C278.64,579.28 278.44,577.60 278.23,575.93 C278.02,574.25 277.80,572.58 277.57,570.91 C277.34,569.23 277.10,567.56 276.85,565.88 C276.60,564.21 276.34,562.53 276.07,560.86 C275.80,559.18 275.52,557.51 275.22,555.83 C274.93,554.16 274.62,552.49 274.30,550.81 C273.98,549.14 273.65,547.46 273.30,545.79 C272.95,544.11 272.59,542.44 272.22,540.76 C271.84,539.09 271.45,537.41 271.05,535.74 C270.64,534.07 270.22,532.39 269.79,530.72 C269.35,529.04 268.90,527.37 268.43,525.69 C267.96,524.02 267.47,522.34 266.97,520.67 C266.47,519.00 265.94,517.32 265.40,515.65 C264.86,513.97 264.31,512.30 263.73,510.62 C263.15,508.95 262.56,507.27 261.94,505.60 C261.32,503.92 260.69,502.25 260.03,500.58 C259.37,498.90 258.69,497.23 257.99,495.55 C257.29,493.88 256.57,492.20 255.83,490.53 C255.08,488.85 254.32,487.18 253.53,485.50 C252.74,483.83 251.93,482.16 251.09,480.48 C250.25,478.81 249.39,477.13 248.51,475.46 C247.63,473.78 246.73,472.11 245.82,470.43 C244.90,468.76 243.97,467.08 243.04,465.41 C242.11,463.74 241.16,462.06 240.22,460.39 C239.28,458.71 238.34,457.04 237.40,455.36 C236.47,453.69 235.54,452.01 234.62,450.34 C233.71,448.66 232.80,446.99 231.92,445.32 C231.04,443.64 230.17,441.97 229.33,440.29 C228.50,438.62 227.68,436.94 226.90,435.27 C226.13,433.59 225.38,431.92 224.67,430.24 C223.96,428.57 223.29,426.90 222.67,425.22 C222.05,423.55 221.47,421.87 220.94,420.20 C220.42,418.52 219.95,416.85 219.53,415.17 C219.12,413.50 218.76,411.83 218.45,410.15 C218.14,408.48 217.89,406.80 217.69,405.13 C217.48,403.45 217.33,401.78 217.23,400.10 C217.12,398.43 217.07,396.75 217.05,395.08 C217.04,393.41 217.07,391.73 217.14,390.06 C217.21,388.38 217.33,386.71 217.48,385.03 C217.63,383.36 217.82,381.68 218.05,380.01 C218.27,378.33 218.54,376.66 218.83,374.99 C219.13,373.31 219.45,371.64 219.81,369.96 C220.17,368.29 220.56,366.61 220.98,364.94 C221.40,363.26 221.85,361.59 222.33,359.91 C222.81,358.24 223.31,356.57 223.84,354.89 C224.37,353.22 224.93,351.54 225.51,349.87 C226.09,348.19 226.70,346.52 227.33,344.84 C227.95,343.17 228.61,341.49 229.28,339.82 C229.95,338.15 230.64,336.47 231.35,334.80 C232.05,333.12 232.78,331.45 233.50,329.77 C234.22,328.10 234.95,326.42 235.67,324.75 C236.40,323.07 237.12,321.40 237.82,319.73 C238.52,318.05 239.21,316.38 239.87,314.70 C240.54,313.03 241.18,311.35 241.81,309.68 C242.43,308.00 243.04,306.33 243.62,304.66 C244.21,302.98 244.77,301.31 245.32,299.63 C245.88,297.96 246.41,296.28 246.92,294.61 C247.44,292.93 247.94,291.26 248.42,289.58 C248.90,287.91 249.37,286.24 249.82,284.56 C250.28,282.89 250.71,281.21 251.14,279.54 C251.57,277.86 251.98,276.19 252.37,274.51 C252.77,272.84 253.16,271.16 253.53,269.49 C253.91,267.82 254.27,266.14 254.62,264.47 C254.97,262.79 255.31,261.12 255.64,259.44 C255.97,257.77 256.29,256.09 256.60,254.42 C256.90,252.74 257.20,251.07 257.49,249.40 C257.78,247.72 258.06,246.05 258.34,244.37 C258.61,242.70 258.87,241.02 259.13,239.35 C259.39,237.67 259.63,236.00 259.88,234.32 C260.12,232.65 260.35,230.98 260.58,229.30 C260.81,227.63 261.03,225.95 261.25,224.28 C261.47,222.60 261.68,220.93 261.88,219.25 C262.09,217.58 262.29,215.90 262.49,214.23 C262.69,212.56 262.88,210.88 263.07,209.21 C263.26,207.53 263.45,205.86 263.64,204.18 C263.82,202.51 264.00,200.83 264.18,199.16 C264.36,197.49 264.54,195.81 264.72,194.14 C264.90,192.46 265.07,190.79 265.25,189.11 C265.42,187.44 265.60,185.76 265.77,184.09 C265.95,182.41 266.12,180.74 266.30,179.07 C266.48,177.39 266.65,175.72 266.83,174.04 C267.01,172.37 267.19,170.69 267.38,169.02 C267.56,167.34 267.75,165.67 267.94,163.99 C268.12,162.32 268.32,160.65 268.51,158.97 C268.71,157.30 268.91,155.62 269.11,153.95 C269.32,152.27 269.53,150.60 269.74,148.92 C269.96,147.25 270.29,144.74 270.40,143.90 Z"/>
<path d="M467.50,128.50 C467.52,129.34 467.55,131.86 467.59,133.54 C467.63,135.22 467.68,136.90 467.73,138.58 C467.79,140.26 467.85,141.94 467.93,143.62 C468.01,145.29 468.09,146.97 468.19,148.65 C468.29,150.33 468.39,152.01 468.52,153.69 C468.64,155.37 468.77,157.05 468.92,158.73 C469.07,160.41 469.23,162.09 469.40,163.77 C469.58,165.45 469.77,167.13 469.98,168.81 C470.18,170.49 470.40,172.17 470.64,173.85 C470.88,175.53 471.14,177.21 471.41,178.88 C471.69,180.56 471.98,182.24 472.29,183.92 C472.60,185.60 472.93,187.28 473.28,188.96 C473.63,190.64 474.00,192.32 474.39,194.00 C474.78,195.68 475.20,197.36 475.63,199.04 C476.07,200.72 476.52,202.40 477.00,204.08 C477.48,205.76 477.99,207.44 478.52,209.12 C479.04,210.79 479.60,212.47 480.17,214.15 C480.74,215.83 481.33,217.51 481.94,219.19 C482.55,220.87 483.18,222.55 483.82,224.23 C484.47,225.91 485.12,227.59 485.79,229.27 C486.46,230.95 487.14,232.63 487.83,234.31 C488.52,235.99 489.22,237.67 489.92,239.35 C490.63,241.03 491.34,242.71 492.05,244.38 C492.76,246.06 493.48,247.74 494.20,249.42 C494.91,251.10 495.63,252.78 496.34,254.46 C497.06,256.14 497.77,257.82 498.47,259.50 C499.18,261.18 499.88,262.86 500.57,264.54 C501.26,266.22 501.94,267.90 502.61,269.58 C503.28,271.26 503.94,272.94 504.60,274.62 C505.25,276.29 505.89,277.97 506.53,279.65 C507.16,281.33 507.79,283.01 508.40,284.69 C509.02,286.37 509.62,288.05 510.22,289.73 C510.82,291.41 511.41,293.09 511.99,294.77 C512.57,296.45 513.14,298.13 513.71,299.81 C514.27,301.49 514.82,303.17 515.37,304.85 C515.92,306.53 516.46,308.21 516.99,309.88 C517.52,311.56 518.04,313.24 518.55,314.92 C519.07,316.60 519.57,318.28 520.07,319.96 C520.57,321.64 521.06,323.32 521.54,325.00 C522.03,326.68 522.50,328.36 522.96,330.04 C523.41,331.72 523.86,333.40 524.29,335.08 C524.71,336.76 525.12,338.44 525.51,340.12 C525.90,341.79 526.26,343.47 526.60,345.15 C526.94,346.83 527.26,348.51 527.55,350.19 C527.83,351.87 528.09,353.55 528.31,355.23 C528.54,356.91 528.73,358.59 528.88,360.27 C529.04,361.95 529.16,363.63 529.23,365.31 C529.31,366.99 529.35,368.67 529.34,370.35 C529.33,372.03 529.28,373.71 529.19,375.38 C529.09,377.06 528.95,378.74 528.77,380.42 C528.58,382.10 528.35,383.78 528.07,385.46 C527.78,387.14 527.45,388.82 527.07,390.50 C526.69,392.18 526.25,393.86 525.77,395.54 C525.28,397.22 524.74,398.90 524.14,400.58 C523.55,402.26 522.90,403.94 522.19,405.62 C521.48,407.29 520.71,408.97 519.89,410.65 C519.07,412.33 518.20,414.01 517.28,415.69 C516.37,417.37 515.40,419.05 514.41,420.73 C513.42,422.41 512.38,424.09 511.33,425.77 C510.27,427.45 509.18,429.13 508.08,430.81 C506.97,432.49 505.84,434.17 504.71,435.85 C503.58,437.53 502.43,439.21 501.28,440.88 C500.14,442.56 498.98,444.24 497.84,445.92 C496.69,447.60 495.54,449.28 494.41,450.96 C493.28,452.64 492.15,454.32 491.04,456.00 C489.93,457.68 488.83,459.36 487.76,461.04 C486.69,462.72 485.64,464.40 484.61,466.08 C483.59,467.76 482.59,469.44 481.63,471.12 C480.67,472.79 479.73,474.47 478.85,476.15 C477.96,477.83 477.10,479.51 476.30,481.19 C475.50,482.87 474.73,484.55 474.03,486.23 C473.32,487.91 472.66,489.59 472.05,491.27 C471.44,492.95 470.88,494.63 470.38,496.31 C469.87,497.99 469.41,499.67 469.00,501.35 C468.59,503.03 468.23,504.71 467.93,506.38 C467.62,508.06 467.36,509.74 467.15,511.42 C466.94,513.10 466.78,514.78 466.68,516.46 C466.57,518.14 466.53,520.66 466.50,521.50 L449.50,521.50 C449.47,520.66 449.43,518.14 449.32,516.46 C449.22,514.78 449.06,513.10 448.85,511.42 C448.64,509.74 448.38,508.06 448.07,506.38 C447.77,504.71 447.41,503.03 447.00,501.35 C446.59,499.67 446.13,497.99 445.62,496.31 C445.12,494.63 444.56,492.95 443.95,491.27 C443.34,489.59 442.68,487.91 441.97,486.23 C441.27,484.55 440.50,482.87 439.70,481.19 C438.90,479.51 438.04,477.83 437.15,476.15 C436.27,474.47 435.33,472.79 434.37,471.12 C433.41,469.44 432.41,467.76 431.39,466.08 C430.36,464.40 429.31,462.72 428.24,461.04 C427.17,459.36 426.07,457.68 424.96,456.00 C423.85,454.32 422.72,452.64 421.59,450.96 C420.46,449.28 419.31,447.60 418.16,445.92 C417.02,444.24 415.86,442.56 414.72,440.88 C413.57,439.21 412.42,437.53 411.29,435.85 C410.16,434.17 409.03,432.49 407.92,430.81 C406.82,429.13 405.73,427.45 404.67,425.77 C403.62,424.09 402.58,422.41 401.59,420.73 C400.60,419.05 399.63,417.37 398.72,415.69 C397.80,414.01 396.93,412.33 396.11,410.65 C395.29,408.97 394.52,407.29 393.81,405.62 C393.10,403.94 392.45,402.26 391.86,400.58 C391.26,398.90 390.72,397.22 390.23,395.54 C389.75,393.86 389.31,392.18 388.93,390.50 C388.55,388.82 388.22,387.14 387.93,385.46 C387.65,383.78 387.42,382.10 387.23,380.42 C387.05,378.74 386.91,377.06 386.81,375.38 C386.72,373.71 386.67,372.03 386.66,370.35 C386.65,368.67 386.69,366.99 386.77,365.31 C386.84,363.63 386.96,361.95 387.12,360.27 C387.27,358.59 387.46,356.91 387.69,355.23 C387.91,353.55 388.17,351.87 388.45,350.19 C388.74,348.51 389.06,346.83 389.40,345.15 C389.74,343.47 390.10,341.79 390.49,340.12 C390.88,338.44 391.29,336.76 391.71,335.08 C392.14,333.40 392.59,331.72 393.04,330.04 C393.50,328.36 393.97,326.68 394.46,325.00 C394.94,323.32 395.43,321.64 395.93,319.96 C396.43,318.28 396.93,316.60 397.45,314.92 C397.96,313.24 398.48,311.56 399.01,309.88 C399.54,308.21 400.08,306.53 400.63,304.85 C401.18,303.17 401.73,301.49 402.29,299.81 C402.86,298.13 403.43,296.45 404.01,294.77 C404.59,293.09 405.18,291.41 405.78,289.73 C406.38,288.05 406.98,286.37 407.60,284.69 C408.21,283.01 408.84,281.33 409.47,279.65 C410.11,277.97 410.75,276.29 411.40,274.62 C412.06,272.94 412.72,271.26 413.39,269.58 C414.06,267.90 414.74,266.22 415.43,264.54 C416.12,262.86 416.82,261.18 417.53,259.50 C418.23,257.82 418.94,256.14 419.66,254.46 C420.37,252.78 421.09,251.10 421.80,249.42 C422.52,247.74 423.24,246.06 423.95,244.38 C424.66,242.71 425.37,241.03 426.08,239.35 C426.78,237.67 427.48,235.99 428.17,234.31 C428.86,232.63 429.54,230.95 430.21,229.27 C430.88,227.59 431.53,225.91 432.18,224.23 C432.82,222.55 433.45,220.87 434.06,219.19 C434.67,217.51 435.26,215.83 435.83,214.15 C436.40,212.47 436.96,210.79 437.48,209.12 C438.01,207.44 438.52,205.76 439.00,204.08 C439.48,202.40 439.93,200.72 440.37,199.04 C440.80,197.36 441.22,195.68 441.61,194.00 C442.00,192.32 442.37,190.64 442.72,188.96 C443.07,187.28 443.40,185.60 443.71,183.92 C444.02,182.24 444.31,180.56 444.59,178.88 C444.86,177.21 445.12,175.53 445.36,173.85 C445.60,172.17 445.82,170.49 446.02,168.81 C446.23,167.13 446.42,165.45 446.60,163.77 C446.77,162.09 446.93,160.41 447.08,158.73 C447.23,157.05 447.36,155.37 447.48,153.69 C447.61,152.01 447.71,150.33 447.81,148.65 C447.91,146.97 447.99,145.29 448.07,143.62 C448.15,141.94 448.21,140.26 448.27,138.58 C448.32,136.90 448.37,135.22 448.41,133.54 C448.45,131.86 448.48,129.34 448.50,128.50 Z"/>
<path d="M652.90,161.70 C653.13,162.54 653.81,165.06 654.25,166.74 C654.70,168.42 655.12,170.10 655.54,171.78 C655.96,173.46 656.37,175.14 656.77,176.81 C657.17,178.49 657.56,180.17 657.95,181.85 C658.33,183.53 658.70,185.21 659.07,186.89 C659.44,188.57 659.80,190.25 660.15,191.93 C660.51,193.61 660.86,195.29 661.20,196.97 C661.55,198.65 661.88,200.33 662.22,202.01 C662.55,203.69 662.88,205.37 663.21,207.04 C663.54,208.72 663.86,210.40 664.18,212.08 C664.51,213.76 664.83,215.44 665.14,217.12 C665.46,218.80 665.78,220.48 666.10,222.16 C666.42,223.84 666.73,225.52 667.05,227.20 C667.37,228.88 667.69,230.56 668.01,232.24 C668.34,233.92 668.66,235.59 668.98,237.27 C669.31,238.95 669.64,240.63 669.97,242.31 C670.31,243.99 670.64,245.67 670.99,247.35 C671.33,249.03 671.68,250.71 672.03,252.39 C672.38,254.07 672.74,255.75 673.11,257.43 C673.47,259.11 673.84,260.79 674.22,262.47 C674.60,264.14 674.99,265.82 675.39,267.50 C675.78,269.18 676.19,270.86 676.60,272.54 C677.01,274.22 677.44,275.90 677.87,277.58 C678.30,279.26 678.75,280.94 679.20,282.62 C679.64,284.30 680.10,285.98 680.57,287.66 C681.03,289.34 681.50,291.02 681.97,292.70 C682.44,294.37 682.92,296.05 683.40,297.73 C683.88,299.41 684.36,301.09 684.84,302.77 C685.32,304.45 685.80,306.13 686.27,307.81 C686.75,309.49 687.23,311.17 687.70,312.85 C688.17,314.53 688.64,316.21 689.10,317.89 C689.56,319.57 690.02,321.25 690.47,322.92 C690.91,324.60 691.35,326.28 691.78,327.96 C692.21,329.64 692.63,331.32 693.03,333.00 C693.44,334.68 693.83,336.36 694.21,338.04 C694.59,339.72 694.95,341.40 695.30,343.08 C695.64,344.76 695.97,346.44 696.28,348.12 C696.59,349.80 696.88,351.47 697.15,353.15 C697.42,354.83 697.67,356.51 697.90,358.19 C698.12,359.87 698.33,361.55 698.50,363.23 C698.68,364.91 698.83,366.59 698.95,368.27 C699.08,369.95 699.17,371.63 699.24,373.31 C699.30,374.99 699.34,376.67 699.34,378.35 C699.35,380.03 699.32,381.70 699.26,383.38 C699.20,385.06 699.10,386.74 698.97,388.42 C698.84,390.10 698.67,391.78 698.46,393.46 C698.26,395.14 698.01,396.82 697.73,398.50 C697.44,400.18 697.12,401.86 696.76,403.54 C696.40,405.22 696.00,406.90 695.57,408.58 C695.15,410.25 694.69,411.93 694.20,413.61 C693.71,415.29 693.19,416.97 692.64,418.65 C692.10,420.33 691.53,422.01 690.93,423.69 C690.34,425.37 689.72,427.05 689.09,428.73 C688.45,430.41 687.79,432.09 687.12,433.77 C686.45,435.45 685.76,437.13 685.06,438.80 C684.36,440.48 683.64,442.16 682.91,443.84 C682.19,445.52 681.45,447.20 680.71,448.88 C679.97,450.56 679.22,452.24 678.46,453.92 C677.71,455.60 676.95,457.28 676.20,458.96 C675.44,460.64 674.68,462.32 673.93,464.00 C673.18,465.68 672.42,467.36 671.68,469.03 C670.93,470.71 670.19,472.39 669.46,474.07 C668.73,475.75 668.01,477.43 667.30,479.11 C666.59,480.79 665.89,482.47 665.21,484.15 C664.53,485.83 663.86,487.51 663.22,489.19 C662.57,490.87 661.94,492.55 661.34,494.23 C660.73,495.91 660.15,497.58 659.59,499.26 C659.03,500.94 658.49,502.62 657.97,504.30 C657.44,505.98 656.95,507.66 656.46,509.34 C655.98,511.02 655.52,512.70 655.07,514.38 C654.62,516.06 654.19,517.74 653.77,519.42 C653.35,521.10 652.95,522.78 652.56,524.46 C652.17,526.13 651.79,527.81 651.43,529.49 C651.06,531.17 650.71,532.85 650.36,534.53 C650.01,536.21 649.68,537.89 649.35,539.57 C649.02,541.25 648.70,542.93 648.39,544.61 C648.07,546.29 647.76,547.97 647.46,549.65 C647.15,551.33 646.86,553.01 646.56,554.69 C646.26,556.36 645.97,558.04 645.67,559.72 C645.38,561.40 645.08,563.08 644.79,564.76 C644.49,566.44 644.05,568.96 643.90,569.80 L611.90,569.80 C611.75,568.96 611.31,566.44 611.01,564.76 C610.72,563.08 610.42,561.40 610.13,559.72 C609.83,558.04 609.54,556.36 609.24,554.69 C608.94,553.01 608.65,551.33 608.34,549.65 C608.04,547.97 607.73,546.29 607.41,544.61 C607.10,542.93 606.78,541.25 606.45,539.57 C606.12,537.89 605.79,536.21 605.44,534.53 C605.09,532.85 604.74,531.17 604.37,529.49 C604.01,527.81 603.63,526.13 603.24,524.46 C602.85,522.78 602.45,521.10 602.03,519.42 C601.61,517.74 601.18,516.06 600.73,514.38 C600.28,512.70 599.82,511.02 599.34,509.34 C598.85,507.66 598.36,505.98 597.83,504.30 C597.31,502.62 596.77,500.94 596.21,499.26 C595.65,497.58 595.07,495.91 594.46,494.23 C593.86,492.55 593.23,490.87 592.58,489.19 C591.94,487.51 591.27,485.83 590.59,484.15 C589.91,482.47 589.21,480.79 588.50,479.11 C587.79,477.43 587.07,475.75 586.34,474.07 C585.61,472.39 584.87,470.71 584.12,469.03 C583.38,467.36 582.62,465.68 581.87,464.00 C581.12,462.32 580.36,460.64 579.60,458.96 C578.85,457.28 578.09,455.60 577.34,453.92 C576.58,452.24 575.83,450.56 575.09,448.88 C574.35,447.20 573.61,445.52 572.89,443.84 C572.16,442.16 571.44,440.48 570.74,438.80 C570.04,437.13 569.35,435.45 568.68,433.77 C568.01,432.09 567.35,430.41 566.71,428.73 C566.08,427.05 565.46,425.37 564.87,423.69 C564.27,422.01 563.70,420.33 563.16,418.65 C562.61,416.97 562.09,415.29 561.60,413.61 C561.11,411.93 560.65,410.25 560.23,408.58 C559.80,406.90 559.40,405.22 559.04,403.54 C558.68,401.86 558.36,400.18 558.07,398.50 C557.79,396.82 557.54,395.14 557.34,393.46 C557.13,391.78 556.96,390.10 556.83,388.42 C556.70,386.74 556.60,385.06 556.54,383.38 C556.48,381.70 556.45,380.03 556.46,378.35 C556.46,376.67 556.50,374.99 556.56,373.31 C556.63,371.63 556.72,369.95 556.85,368.27 C556.97,366.59 557.12,364.91 557.30,363.23 C557.47,361.55 557.68,359.87 557.90,358.19 C558.13,356.51 558.38,354.83 558.65,353.15 C558.92,351.47 559.21,349.80 559.52,348.12 C559.83,346.44 560.16,344.76 560.50,343.08 C560.85,341.40 561.21,339.72 561.59,338.04 C561.97,336.36 562.36,334.68 562.77,333.00 C563.17,331.32 563.59,329.64 564.02,327.96 C564.45,326.28 564.89,324.60 565.33,322.92 C565.78,321.25 566.24,319.57 566.70,317.89 C567.16,316.21 567.63,314.53 568.10,312.85 C568.57,311.17 569.05,309.49 569.53,307.81 C570.00,306.13 570.48,304.45 570.96,302.77 C571.44,301.09 571.92,299.41 572.40,297.73 C572.88,296.05 573.36,294.37 573.83,292.70 C574.30,291.02 574.77,289.34 575.23,287.66 C575.70,285.98 576.16,284.30 576.60,282.62 C577.05,280.94 577.50,279.26 577.93,277.58 C578.36,275.90 578.79,274.22 579.20,272.54 C579.61,270.86 580.02,269.18 580.41,267.50 C580.81,265.82 581.20,264.14 581.58,262.47 C581.96,260.79 582.33,259.11 582.69,257.43 C583.06,255.75 583.42,254.07 583.77,252.39 C584.12,250.71 584.47,249.03 584.81,247.35 C585.16,245.67 585.49,243.99 585.83,242.31 C586.16,240.63 586.49,238.95 586.82,237.27 C587.14,235.59 587.46,233.92 587.79,232.24 C588.11,230.56 588.43,228.88 588.75,227.20 C589.07,225.52 589.38,223.84 589.70,222.16 C590.02,220.48 590.34,218.80 590.66,217.12 C590.97,215.44 591.29,213.76 591.62,212.08 C591.94,210.40 592.26,208.72 592.59,207.04 C592.92,205.37 593.25,203.69 593.58,202.01 C593.92,200.33 594.25,198.65 594.60,196.97 C594.94,195.29 595.29,193.61 595.65,191.93 C596.00,190.25 596.36,188.57 596.73,186.89 C597.10,185.21 597.47,183.53 597.85,181.85 C598.24,180.17 598.63,178.49 599.03,176.81 C599.43,175.14 599.84,173.46 600.26,171.78 C600.68,170.10 601.10,168.42 601.55,166.74 C601.99,165.06 602.67,162.54 602.90,161.70 Z"/>
</clipPath>
<g clip-path="url(#vc)">
<line x1="190.5" x2="732.9" y1="106.0" y2="106.0" stroke="#000" stroke-opacity="0.3" stroke-width="2" stroke-dasharray="2.1 5.65"/>
<line x1="190.5" x2="732.9" y1="222.0" y2="222.0" stroke="#000" stroke-opacity="0.3" stroke-width="2" stroke-dasharray="2.1 5.65"/>
<line x1="190.5" x2="732.9" y1="338.0" y2="338.0" stroke="#000" stroke-opacity="0.3" stroke-width="2" stroke-dasharray="2.1 5.65"/>
<line x1="190.5" x2="732.9" y1="454.0" y2="454.0" stroke="#000" stroke-opacity="0.3" stroke-width="2" stroke-dasharray="2.1 5.65"/>
<line x1="190.5" x2="732.9" y1="570.0" y2="570.0" stroke="#000" stroke-opacity="0.3" stroke-width="2" stroke-dasharray="2.1 5.65"/>
</g>
<g fill="none" stroke="#0a0aff" stroke-width="2.4" stroke-linejoin="round">
<path d="M288.4,295.1 V143.9" stroke-dasharray="12.9 10.3"/>
<path d="M288.4,591.0 V416.6" stroke-dasharray="12.9 10.3"/>
<rect x="241.5" y="295.1" width="93.9" height="121.5"/>
</g>
<line x1="241.5" x2="335.4" y1="376.8" y2="376.8" stroke="#d0144f" stroke-width="2.4"/>
<circle cx="288.4" cy="358.0" r="2.3" fill="#9c2858"/>
<line x1="263.9" x2="312.9" y1="143.9" y2="143.9" stroke="#222" stroke-width="2"/>
<line x1="263.9" x2="312.9" y1="591.0" y2="591.0" stroke="#222" stroke-width="2"/>
<g fill="none" stroke="#3206dc" stroke-width="2.4" stroke-linejoin="round">
<path d="M458.0,287.0 V128.5" stroke-dasharray="12.9 10.3"/>
<path d="M458.0,521.5 V398.0" stroke-dasharray="12.9 10.3"/>
<rect x="411.5" y="287.0" width="93.9" height="111.0"/>
</g>
<line x1="411.5" x2="505.4" y1="349.8" y2="349.8" stroke="#f01428" stroke-width="2.4"/>
<circle cx="458.0" cy="340.7" r="2.3" fill="#b0282c"/>
<line x1="433.5" x2="482.5" y1="128.5" y2="128.5" stroke="#222" stroke-width="2"/>
<line x1="433.5" x2="482.5" y1="521.5" y2="521.5" stroke="#222" stroke-width="2"/>
<g fill="none" stroke="#1432d2" stroke-width="2.4" stroke-linejoin="round">
<path d="M627.9,276.6 V161.7" stroke-dasharray="12.9 10.3"/>
<path d="M627.9,569.8 V397.0" stroke-dasharray="12.9 10.3"/>
<rect x="581.5" y="276.6" width="93.9" height="120.4"/>
</g>
<line x1="581.5" x2="675.4" y1="376.3" y2="376.3" stroke="#c84a28" stroke-width="2.4"/>
<circle cx="627.9" cy="350.2" r="2.3" fill="#8c5a2c"/>
<line x1="603.4" x2="652.4" y1="161.7" y2="161.7" stroke="#222" stroke-width="2"/>
<line x1="603.4" x2="652.4" y1="569.8" y2="569.8" stroke="#222" stroke-width="2"/>
<rect x="175.5" y="2.1" width="565.4" height="635.7" fill="none" stroke="#3c3c3c" stroke-width="2.8"/>
<line x1="174.1" x2="742.3" y1="2.1" y2="2.1" stroke="#0a0a0a" stroke-width="2.8"/>
<g fill="none" stroke="#111" stroke-width="3.2" stroke-linejoin="miter">
<path d="M291.5,74 V50.3 H624.3 V74.5"/>
<path d="M291.5,122.5 V97.5 H453.8 V122.5"/>
<path d="M462.4,122.5 V97.5 H624.3 V122.8"/>
</g>
<g font-size="37" text-anchor="middle">
<text x="458.4" y="38.7">t=0.2 p&gt;0.8</text>
<text x="372.2" y="91">t=0.7</text>
<text x="372.3" y="128.3">p&gt;0.4</text>
<text x="543.2" y="91">t=0.3</text>
<text x="543.3" y="128.3">p&gt;0.7</text>
</g>
<text x="171.8" y="122.8" font-size="46" text-anchor="end">35</text>
<text x="171.8" y="238.8" font-size="46" text-anchor="end">30</text>
<text x="171.8" y="354.8" font-size="46" text-anchor="end">25</text>
<text x="171.8" y="470.8" font-size="46" text-anchor="end">20</text>
<text x="171.8" y="586.8" font-size="46" text-anchor="end">15</text>
<text transform="translate(311.1,662.1) rotate(-45)" font-size="43.5" text-anchor="end" textLength="116.2" lengthAdjust="spacingAndGlyphs">Visual</text>
<text transform="translate(476.2,664.0) rotate(-45)" font-size="43.5" text-anchor="end">Tone</text>
<text transform="translate(649.4,661.0) rotate(-45)" font-size="43.5" text-anchor="end">Rest</text>
<g transform="translate(32.0,0) rotate(-90)" font-size="43" stroke="#111" stroke-width="0.5">
<text x="-634.0" y="0" textLength="192.5" lengthAdjust="spacingAndGlyphs" style="stroke-width:0.45px">Functional</text>
<text x="-430.7" y="0" textLength="227.1" lengthAdjust="spacingAndGlyphs" style="stroke-width:0.45px">connectivity</text>
<text x="-194.5" y="0" textLength="158.9" lengthAdjust="spacingAndGlyphs" style="stroke-width:0.45px">Strength</text>
</g>
<g transform="translate(87.2,0) rotate(-90)" font-size="43" stroke="#111" stroke-width="0.5">
<text x="-544.9" y="0" textLength="183.0" lengthAdjust="spacingAndGlyphs" style="stroke-width:0.45px">(averaged</text>
<text x="-348.3" y="0" textLength="187.2" lengthAdjust="spacingAndGlyphs" style="stroke-width:0.45px">significant</text>
<text x="-149.6" y="0" textLength="35.6" lengthAdjust="spacingAndGlyphs" style="stroke-width:0.45px">β)</text>
</g>
</svg></body></html>
